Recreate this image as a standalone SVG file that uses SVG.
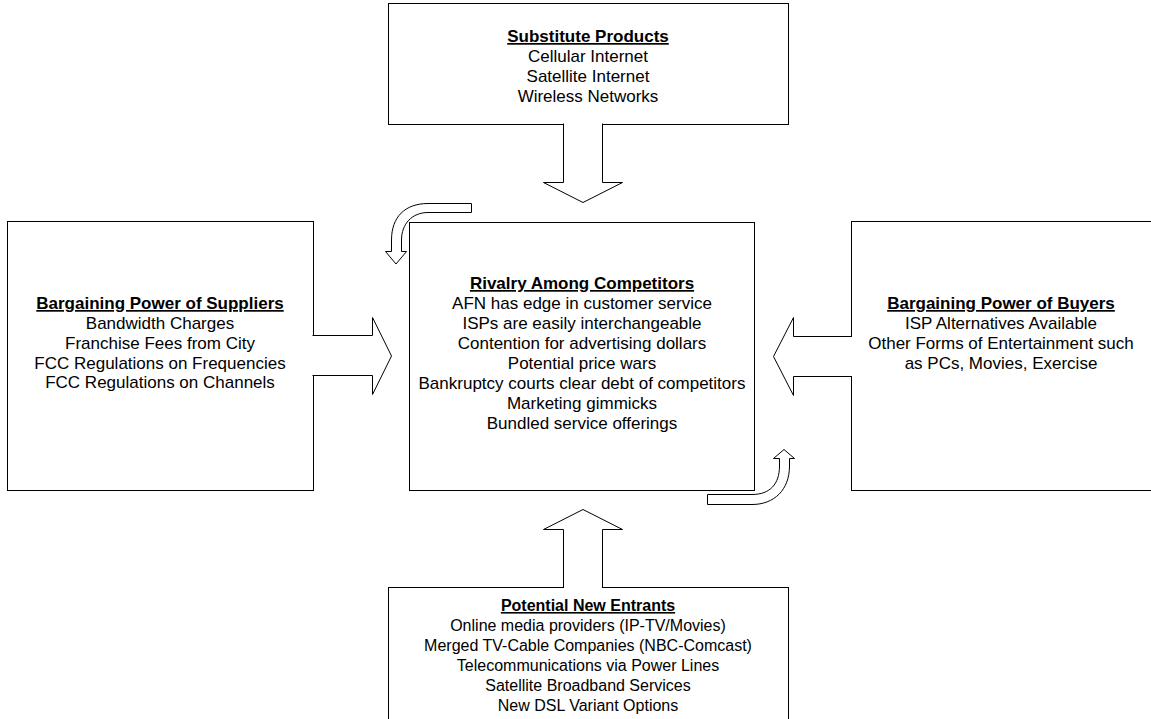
<svg xmlns="http://www.w3.org/2000/svg" width="1151" height="719" viewBox="0 0 1151 719">
<style>
.box{fill:#fff;stroke:#000;stroke-width:1}
.arr{fill:#fff;stroke:#000;stroke-width:1;stroke-linejoin:miter}
text{font-family:"Liberation Sans",Arial,sans-serif;font-size:17px;fill:#000;text-anchor:middle}
.h{font-weight:bold;text-decoration:underline}
.s{font-size:16px}
</style>
<rect width="1151" height="719" fill="#fff"/>
<g id="substitutes">
<rect class="box" x="388.5" y="3.5" width="400" height="121"/>
<text class="h" x="588" y="42">Substitute Products</text>
<text x="588" y="62">Cellular Internet</text>
<text x="588" y="82">Satellite Internet</text>
<text x="588" y="102">Wireless Networks</text>
</g>
<g id="suppliers">
<rect class="box" x="7.5" y="221.5" width="306" height="269"/>
<text class="h" x="160" y="309">Bargaining Power of Suppliers</text>
<text x="160" y="329">Bandwidth Charges</text>
<text x="160" y="349">Franchise Fees from City</text>
<text x="160" y="369">FCC Regulations on Frequencies</text>
<text x="160" y="388">FCC Regulations on Channels</text>
</g>
<g id="rivalry">
<rect class="box" x="409.5" y="222.5" width="345" height="268"/>
<text class="h" x="582" y="289">Rivalry Among Competitors</text>
<text x="582" y="309">AFN has edge in customer service</text>
<text x="582" y="329">ISPs are easily interchangeable</text>
<text x="582" y="349">Contention for advertising dollars</text>
<text x="582" y="369">Potential price wars</text>
<text x="582" y="389">Bankruptcy courts clear debt of competitors</text>
<text x="582" y="409">Marketing gimmicks</text>
<text x="582" y="429">Bundled service offerings</text>
</g>
<g id="buyers">
<rect class="box" x="851.5" y="221.5" width="310" height="269"/>
<text class="h" x="1001" y="309">Bargaining Power of Buyers</text>
<text x="1001" y="329">ISP Alternatives Available</text>
<text x="1001" y="349">Other Forms of Entertainment such</text>
<text x="1001" y="369">as PCs, Movies, Exercise</text>
</g>
<g id="entrants">
<rect class="box" x="388.5" y="587.5" width="400" height="140"/>
<text class="h s" x="588" y="611">Potential New Entrants</text>
<text class="s" x="588" y="631">Online media providers (IP-TV/Movies)</text>
<text class="s" x="588" y="651">Merged TV-Cable Companies (NBC-Comcast)</text>
<text class="s" x="588" y="671">Telecommunications via Power Lines</text>
<text class="s" x="588" y="691">Satellite Broadband Services</text>
<text class="s" x="588" y="711">New DSL Variant Options</text>
</g>
<g id="connectors">
<path class="arr" d="M563.5,123.5 V182.5 H543.5 L583,202.5 L622.5,182.5 H602.5 V123.5"/>
<path class="arr" d="M312.5,335.5 H372.5 V317.5 L391.5,356 L372.5,394.5 V375.5 H312.5"/>
<path class="arr" d="M852,336.5 H793.5 V317.5 L773.5,356.5 L793.5,395.5 V376.5 H852"/>
<path class="arr" d="M563.5,588 V529.5 H543.5 L583,509.5 L622.5,529.5 H602.5 V588"/>
<path class="arr" d="M471.5,203.5 H428 C405,203.5 391.5,217 391.5,240 V251.5 H385.5 L396,264 L406.5,251.5 H401.5 V240 C401.5,224 412,212.5 428,212.5 H471.5 Z"/>
<path class="arr" d="M707.5,494.5 H752 C770,494.5 779.5,484 779.5,466 V458.5 H773.5 L784,449.5 L794.5,458.5 H789.5 V466 C789.5,490 774,504.5 752,504.5 H707.5 Z"/>
</g>
</svg>
